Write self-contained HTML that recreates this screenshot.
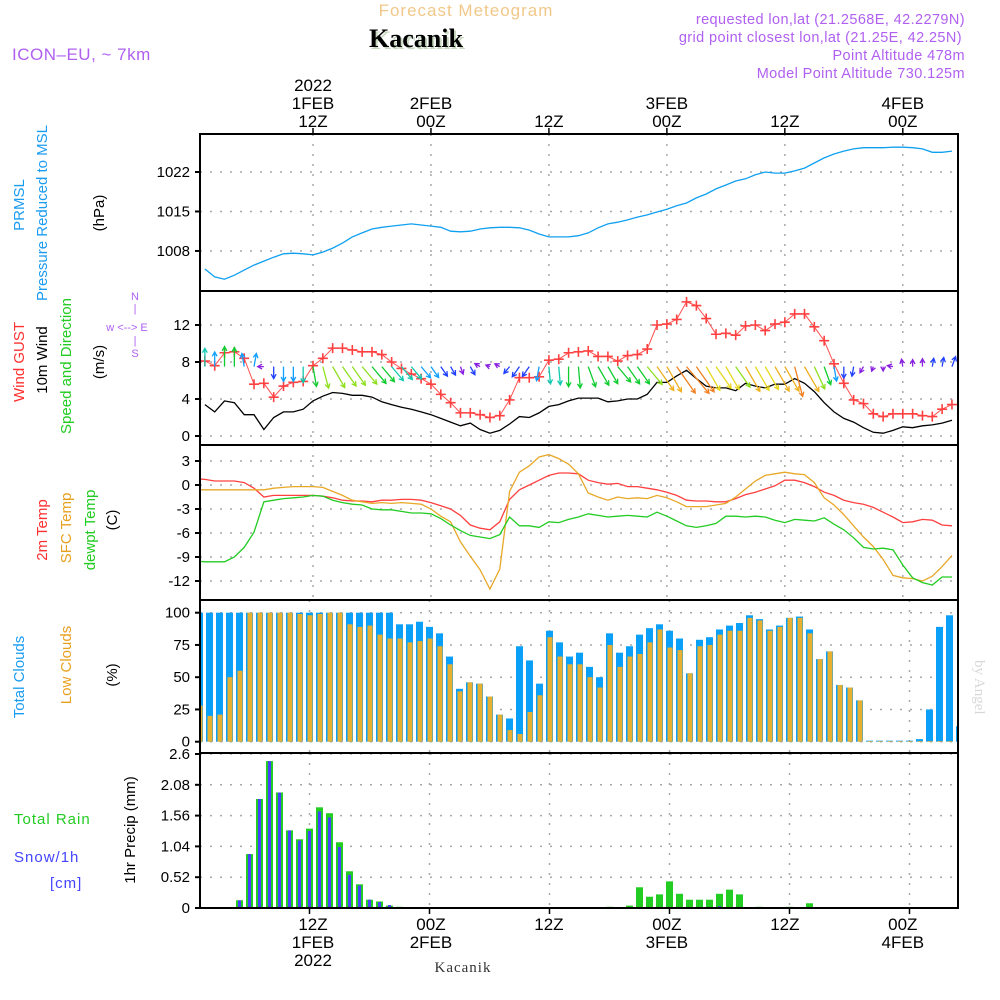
<!DOCTYPE html>
<html><head><meta charset="utf-8"><style>
html,body{margin:0;padding:0;background:#fff;}
svg{display:block;font-family:"Liberation Sans",sans-serif;}
</style></head><body>
<svg id="chart" width="1000" height="1000" viewBox="0 0 1000 1000" xmlns="http://www.w3.org/2000/svg">
<defs><clipPath id="pc"><rect x="201" y="130" width="757" height="790"/></clipPath></defs>
<text x="466" y="16" font-size="17" fill="#f2c88a" text-anchor="middle" letter-spacing="1">Forecast Meteogram</text>
<text x="418" y="49" font-size="26" font-weight="bold" font-family="Liberation Serif, serif" fill="#c8d8c0" text-anchor="middle">Kacanik</text>
<text x="416" y="47" font-size="26" font-weight="bold" font-family="Liberation Serif, serif" fill="#000" text-anchor="middle">Kacanik</text>
<text x="12" y="60" font-size="17" fill="#b060f0" letter-spacing="0.5">ICON–EU, ~ 7km</text>
<g font-size="14.5" fill="#b060f0" text-anchor="end" letter-spacing="0.4">
<text x="965" y="24">requested lon,lat (21.2568E, 42.2279N)</text>
<text x="962" y="42">grid point closest lon,lat (21.25E, 42.25N)</text>
<text x="965" y="60">Point Altitude 478m</text>
<text x="965" y="78">Model Point Altitude 730.125m</text>
</g>
<g id="grid" clip-path="url(#pc)"></g>
<g id="series" clip-path="url(#pc)"></g>
<g id="axes"></g>
<g font-size="15">
<text transform="translate(24,205) rotate(-90)" text-anchor="middle" fill="#1a9cf0">PRMSL</text>
<text transform="translate(47,213) rotate(-90)" text-anchor="middle" fill="#1a9cf0">Pressure Reduced to MSL</text>
<text transform="translate(104,213) rotate(-90)" text-anchor="middle" fill="#000">(hPa)</text>
<text transform="translate(24,362) rotate(-90)" text-anchor="middle" fill="#ff3030">Wind GUST</text>
<text transform="translate(47,360) rotate(-90)" text-anchor="middle" fill="#000">10m Wind</text>
<text transform="translate(71,366) rotate(-90)" text-anchor="middle" fill="#22cc22">Speed and Direction</text>
<text transform="translate(104,362) rotate(-90)" text-anchor="middle" fill="#000">(m/s)</text>
<text transform="translate(47,530) rotate(-90)" text-anchor="middle" fill="#ff3030">2m Temp</text>
<text transform="translate(71,528) rotate(-90)" text-anchor="middle" fill="#e8a020">SFC Temp</text>
<text transform="translate(95,530) rotate(-90)" text-anchor="middle" fill="#22cc22">dewpt Temp</text>
<text transform="translate(117,520) rotate(-90)" text-anchor="middle" fill="#000">(C)</text>
<text transform="translate(24,677) rotate(-90)" text-anchor="middle" fill="#1a9cf0">Total Clouds</text>
<text transform="translate(71,665) rotate(-90)" text-anchor="middle" fill="#e8a020">Low Clouds</text>
<text transform="translate(117,675) rotate(-90)" text-anchor="middle" fill="#000">(%)</text>
<text x="14" y="824" fill="#22cc22" letter-spacing="1">Total  Rain</text>
<text x="14" y="862" fill="#4444ff" letter-spacing="1">Snow/1h</text>
<text x="50" y="888" fill="#4444ff" letter-spacing="1">[cm]</text>
<text transform="translate(135,830) rotate(-90)" text-anchor="middle" fill="#000">1hr Precip (mm)</text>
</g>
<g fill="#b060f0" font-size="11" text-anchor="middle">
<text x="135" y="300">N</text><text x="135" y="312">|</text>
<text x="127" y="331">w &lt;--&gt; E</text>
<text x="135" y="344">|</text><text x="135" y="357">S</text>
</g>
<text transform="translate(975,660) rotate(90)" font-family="Liberation Serif, serif" font-size="15" fill="#d8d8d8">by Angel</text>
<text x="463" y="972" font-family="Liberation Serif, serif" font-size="15" fill="#333" text-anchor="middle" letter-spacing="1">Kacanik</text>
</svg>
<script>
// ---- data (hour index h = hours since 00Z 1 FEB 2022) ----
const tickHours = [12, 24, 36, 48, 60, 72];
const topTickLabels = [["2022","1FEB","12Z"],["2FEB","00Z"],["12Z"],["3FEB","00Z"],["12Z"],["4FEB","00Z"]];
const botTickLabels = [["12Z","1FEB","2022"],["00Z","2FEB"],["12Z"],["00Z","3FEB"],["12Z"],["00Z","4FEB"]];
const pressTicks = [1008, 1015, 1022];
const windTicks = [0, 4, 8, 12];
const tempTicks = [3, 0, -3, -6, -9, -12];
const cloudTicks = [0, 25, 50, 75, 100];
const precipTicks = [0, 0.52, 1.04, 1.56, 2.08, 2.6];
// pressure h=1..77
const pressure = [1004.8,1003.4,1003.0,1003.7,1004.6,1005.5,1006.2,1006.9,1007.5,1007.6,1007.5,1007.3,1007.8,1008.5,1009.4,1010.5,1011.2,1011.9,1012.2,1012.4,1012.6,1012.8,1012.6,1012.4,1012.2,1011.5,1011.4,1011.5,1011.9,1012.1,1012.2,1012.2,1012.1,1011.7,1011.0,1010.5,1010.5,1010.5,1010.7,1011.2,1012.1,1012.8,1013.1,1013.5,1014.0,1014.4,1014.9,1015.4,1016.0,1016.5,1017.4,1018.1,1019.0,1019.7,1020.4,1020.8,1021.5,1022.0,1021.8,1021.8,1022.2,1022.7,1023.6,1024.5,1025.2,1025.7,1026.1,1026.3,1026.3,1026.3,1026.4,1026.4,1026.3,1026.1,1025.5,1025.5,1025.7];
// wind h=1..77
const gust = [8.1,7.6,9.0,9.1,8.4,5.6,5.7,4.2,5.4,5.8,5.9,7.6,8.4,9.5,9.5,9.3,9.1,9.1,8.8,8.0,7.3,6.7,6.2,5.6,4.5,3.6,2.5,2.5,2.3,2.0,2.2,3.9,6.3,6.3,6.4,8.2,8.3,9.0,9.1,9.2,8.6,8.6,8.1,8.7,8.8,9.4,12.0,12.1,12.6,14.5,14.1,12.7,11.0,11.1,10.9,11.9,12.0,11.4,12.1,12.3,13.2,13.2,11.8,10.3,7.8,5.7,3.9,3.5,2.4,2.1,2.4,2.4,2.4,2.2,2.1,2.9,3.4];
const windSpeed = [3.4,2.6,3.8,3.6,2.3,2.3,0.7,2.0,2.6,2.6,2.9,3.8,4.3,4.7,4.6,4.4,4.4,4.2,3.7,3.4,3.1,2.9,2.6,2.3,1.9,1.5,1.1,1.4,0.7,0.3,0.6,1.3,2.1,2.0,2.5,3.2,3.4,3.8,4.1,4.1,4.1,3.7,3.8,4.0,4.0,4.5,5.8,5.8,6.5,7.1,6.2,5.4,5.2,5.2,4.9,5.7,5.4,5.2,5.6,5.6,6.2,5.7,4.8,3.6,2.6,1.9,1.5,0.9,0.4,0.3,0.6,1.0,0.9,1.1,1.2,1.4,1.7];
const windDir = [0,0,0,0,350,10,270,180,180,180,180,170,165,150,145,145,140,140,140,140,140,140,140,145,145,150,160,150,300,290,300,220,215,215,190,175,175,180,175,160,150,150,140,145,145,140,145,150,145,140,145,150,145,150,145,150,150,150,150,150,165,150,155,160,170,180,190,210,200,180,280,350,0,0,10,10,20];
// temperature h=0..77
const temp2m = [0.8,0.7,0.5,0.5,0.5,0.3,-0.4,-1.5,-1.3,-1.3,-1.3,-1.3,-1.3,-1.4,-1.6,-1.9,-2.0,-2.0,-2.1,-1.9,-1.9,-1.8,-1.8,-1.9,-2.2,-2.6,-3.0,-3.8,-5.0,-5.4,-5.6,-4.6,-1.8,-0.6,0.0,0.6,1.2,1.5,1.5,1.4,0.6,0.3,0.1,0.2,-0.2,-0.2,-0.4,-0.6,-0.9,-1.3,-1.9,-2.0,-2.0,-2.1,-2.1,-1.7,-1.2,-0.9,-0.5,-0.1,0.6,0.6,0.3,-0.2,-0.9,-1.3,-1.9,-2.2,-2.4,-2.8,-3.4,-4.0,-4.7,-4.6,-4.3,-4.4,-5.0,-5.1];
const sfcTemp = [-0.6,-0.6,-0.6,-0.6,-0.6,-0.6,-0.6,-0.6,-0.4,-0.3,-0.2,-0.2,-0.2,-0.3,-0.8,-1.3,-1.9,-2.1,-2.3,-2.2,-2.3,-2.2,-2.3,-2.4,-3.0,-3.9,-4.6,-7.1,-8.9,-10.6,-13.0,-10.5,-0.8,1.6,2.4,3.5,3.8,3.3,2.6,1.4,-1.0,-1.5,-1.9,-1.5,-1.7,-1.6,-1.7,-1.3,-1.6,-2.1,-2.7,-2.7,-2.7,-2.5,-2.3,-1.5,-0.5,0.5,1.2,1.4,1.6,1.4,1.3,0.3,-1.6,-2.5,-3.7,-5.1,-6.5,-7.7,-9.3,-11.3,-11.6,-11.7,-12.0,-11.4,-10.2,-8.8];
const dewpt = [-9.5,-9.6,-9.6,-9.6,-9.0,-7.8,-5.9,-2.1,-1.9,-1.7,-1.6,-1.5,-1.3,-1.4,-1.9,-2.2,-2.4,-2.5,-3.0,-3.1,-3.1,-3.3,-3.5,-3.5,-3.6,-4.2,-5.0,-5.7,-6.3,-6.5,-6.7,-6.2,-4.0,-5.1,-5.1,-5.3,-4.6,-4.7,-4.3,-4.0,-3.6,-3.8,-4.0,-3.9,-3.8,-3.9,-4.0,-3.4,-3.9,-4.5,-5.1,-5.3,-5.1,-4.8,-3.9,-3.9,-4.0,-3.9,-4.0,-4.4,-4.7,-4.3,-4.4,-4.5,-4.1,-4.9,-5.6,-6.6,-7.8,-8.0,-7.9,-8.1,-10.0,-11.6,-12.2,-12.5,-11.5,-11.5];
// clouds h=1..77
const totalCloud = [100,100,100,100,100,100,100,100,100,100,100,100,100,100,100,100,100,100,100,100,91,91,93,89,84,66,41,46,45,35,21,18,74,63,45,86,77,66,69,58,50,84,69,74,83,88,91,86,80,53,79,81,87,90,92,98,95,87,90,96,97,87,64,70,44,42,32,0.8,0.8,0.8,0.8,0.8,2,25,89,98,12];
const lowCloud = [28,20,21,50,55,100,100,100,100,100,99,98,99,100,100,91,89,90,83,80,80,77,78,80,74,60,39,46,45,35,21,9,6,23,36,81,66,60,60,50,42,75,58,66,68,77,87,73,71,53,74,75,83,86,86,96,94,86,89,96,96,84,64,70,44,42,32,0.5,0.5,0.5,0.5,0.5,0.5,0.5,0.5,0.5,0.5];
// precipitation h=1..77
const rain = [0,0,0,0,0.13,0.91,1.84,2.48,1.95,1.31,1.16,1.34,1.70,1.60,1.11,0.62,0.40,0.14,0.11,0.04,0.02,0,0,0,0,0,0,0,0,0,0,0,0,0,0,0,0,0,0,0,0,0.02,0.01,0.04,0.35,0.19,0.23,0.45,0.24,0.14,0.14,0.14,0.24,0.31,0.23,0,0.02,0,0,0.02,0,0.08,0,0,0,0,0,0,0,0,0,0,0,0,0,0];
const snow = [0,0,0,0,0.13,0.91,1.84,2.48,1.95,1.31,1.14,1.30,1.63,1.53,1.03,0.56,0.38,0.14,0.10,0.05,0,0,0,0,0,0,0,0,0,0,0,0,0,0,0,0,0,0,0,0,0,0,0,0,0,0,0,0,0,0,0,0,0.03,0,0,0,0,0,0,0,0,0,0,0,0,0,0,0,0,0,0,0,0,0,0,0];

// ---- scales ----
const NS = 'http://www.w3.org/2000/svg';
const X0 = 200, X1 = 958;
const xt = h => 313 + (h - 12) * 9.83;
const xb = h => 309.5 + (h - 12) * 10.0;
const yP = v => 172 + (1022 - v) * 5.64;
const yW = v => 436 - v * 9.25;
const yT = v => 485 - v * 8.0;
const yC = v => 741.7 - v * 1.29;
const yR = v => 908 - v * (154 / 2.6);
const panels = [{y0:134,y1:291,sc:yP,ticks:pressTicks,xf:xt,fmt:v=>v,name:'pressure'},
  {y0:291,y1:445,sc:yW,ticks:windTicks,xf:xt,fmt:v=>v,name:'wind'},
  {y0:445,y1:600,sc:yT,ticks:tempTicks,xf:xt,fmt:v=>v,name:'temperature'},
  {y0:600,y1:753,sc:yC,ticks:cloudTicks,xf:xb,fmt:v=>v,name:'clouds'},
  {y0:753,y1:908,sc:yR,ticks:precipTicks,xf:xb,fmt:v=>v,name:'precip'}];

function mk(tag, attrs, parent){
  const e = document.createElementNS(NS, tag);
  for (const k in attrs) e.setAttribute(k, attrs[k]);
  parent.appendChild(e); return e;
}
const grid = document.getElementById('grid'), ser = document.getElementById('series'), axes = document.getElementById('axes');

panels.forEach(p => {
  p.ticks.forEach(t => {
    const y = p.sc(t);
    const g = mk('line', {x1:X0, x2:X1, y1:y, y2:y, stroke:'#a8a8a8', 'stroke-width':1.5, 'stroke-dasharray':'2,8'}, grid);
    
    
    const tk = mk('line', {x1:X0-5, x2:X0, y1:y, y2:y, stroke:'#000', 'stroke-width':2}, axes);
    
    
    const lb = mk('text', {x:X0-10, y:y+5, 'font-size':15, 'text-anchor':'end', fill:'#000'}, axes);
    lb.textContent = p.fmt(t);
    
    
  });
  tickHours.forEach(h => {
    const x = p.xf(h);
    const g = mk('line', {x1:x, x2:x, y1:p.y0, y2:p.y1, stroke:'#a8a8a8', 'stroke-width':1.5, 'stroke-dasharray':'2,8'}, grid);
    
    
  });
  const fr = mk('rect', {x:X0, y:p.y0, width:X1-X0, height:p.y1-p.y0, fill:'none', stroke:'#000', 'stroke-width':2}, axes);
  
  
});

// time axis labels
tickHours.forEach((h, i) => {
  const x = xt(h);
  const tk = mk('line', {x1:x, x2:x, y1:128, y2:134, stroke:'#000', 'stroke-width':1.5}, axes);
  
  
  const lines = topTickLabels[i];
  lines.forEach((s, j) => {
    const t = mk('text', {x:x, y:127 - (lines.length-1-j)*18, 'font-size':17, 'text-anchor':'middle', fill:'#000'}, axes);
    t.textContent = s;
    
    
  });
  const xbv = xb(h);
  const bt = mk('line', {x1:xbv, x2:xbv, y1:908, y2:914, stroke:'#000', 'stroke-width':1.5}, axes);
  
  
  botTickLabels[i].forEach((s, j) => {
    const t = mk('text', {x:x, y:930 + j*18, 'font-size':17, 'text-anchor':'middle', fill:'#000'}, axes);
    t.textContent = s;
    
    
  });
});

function line(arr, h0, sc, color, name, w){
  const pts = arr.map((v, i) => xt(i + h0).toFixed(1) + ',' + sc(v).toFixed(1)).join(' ');
  const l = mk('polyline', {points:pts, fill:'none', stroke:color, 'stroke-width':w||1.3}, ser);
  
  
  return l;
}
line(pressure, 1, yP, '#10a0f0', 'pressure-line');
line(temp2m, 0, yT, '#ff4040', 'temp-2m-line');
line(sfcTemp, 0, yT, '#e8a828', 'sfc-temp-line');
line(dewpt, 0, yT, '#22cc22', 'dewpoint-line');
line(windSpeed, 1, yW, '#000', 'wind-speed-line');
line(gust, 1, yW, '#ff5050', 'gust-line', 1);
gust.forEach((v, i) => {
  const x = xt(i + 1), y = yW(v);
  const c = mk('path', {d:`M${x-5},${y}H${x+5}M${x},${y-5}V${y+5}`, stroke:'#ff4040', 'stroke-width':1.6}, ser);
  
  
});

function windColor(s){
  if (s < 1.2) return '#8a20e0';
  if (s < 2.2) return '#2040ff';
  if (s < 2.8) return '#10a0ff';
  if (s < 3.5) return '#10c8b0';
  if (s < 4.3) return '#10cc30';
  if (s < 5.0) return '#90e020';
  if (s < 5.6) return '#e8d820';
  if (s < 6.2) return '#f0b020';
  return '#f08020';
}
windDir.forEach((d, i) => {
  const s = windSpeed[i];
  const x = xt(i + 1), y = yW(7.5);
  const L = 3 + 4.5 * s;
  const a = d * Math.PI / 180;
  const x2 = x + L * Math.sin(a), y2 = y - L * Math.cos(a);
  const hl = 5, ang = Math.atan2(y2 - y, x2 - x);
  const p1x = x2 - hl*Math.cos(ang - 0.5), p1y = y2 - hl*Math.sin(ang - 0.5);
  const p2x = x2 - hl*Math.cos(ang + 0.5), p2y = y2 - hl*Math.sin(ang + 0.5);
  const ar = mk('path', {d:`M${x},${y}L${x2},${y2}M${p1x},${p1y}L${x2},${y2}L${p2x},${p2y}`, stroke:windColor(s), 'stroke-width':1.3, fill:'none'}, ser);
  
  
});

totalCloud.forEach((v, i) => {
  const x = xb(i + 1);
  const b = mk('rect', {x:x-3.5, y:yC(v), width:7, height:yC(0)-yC(v), fill:'#0aa0f8'}, ser);
  
  
  const lv = lowCloud[i];
  const o = mk('rect', {x:x-2, y:yC(lv), width:5, height:yC(0)-yC(lv), fill:'#e8b030'}, ser);
  
  
});
rain.forEach((v, i) => {
  if (v <= 0) return;
  const x = xb(i + 1);
  const b = mk('rect', {x:x-3.5, y:yR(v), width:7, height:yR(0)-yR(v), fill:'#22cc22'}, ser);
  
  
  const sv = snow[i];
  if (sv > 0) {
    const s = mk('rect', {x:x-1.5, y:yR(sv), width:3, height:yR(0)-yR(sv), fill:'#4444ff'}, ser);
    
    
  }
});
</script>
</body></html>
